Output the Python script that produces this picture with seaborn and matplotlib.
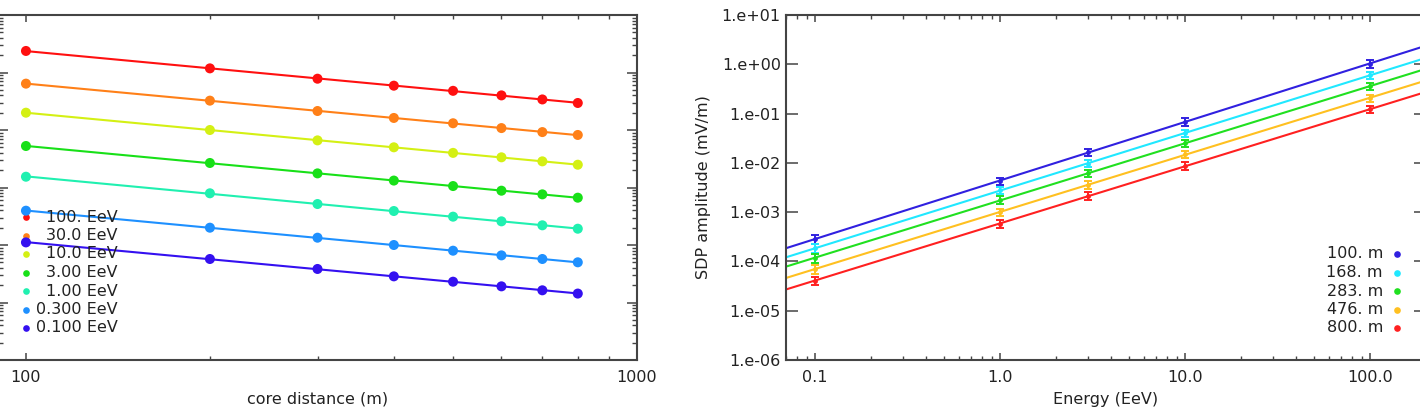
import numpy as np
import pandas as pd
import matplotlib
matplotlib.use("Agg")
import matplotlib.pyplot as plt
import matplotlib.ticker as mticker
import seaborn as sns

# ---------------- data ----------------
core_distance = [100, 200, 300, 400, 500, 600, 700, 800]
energy_labels = ["100. EeV", "30.0 EeV", "10.0 EeV", "3.00 EeV", "1.00 EeV", "0.300 EeV", "0.100 EeV"]
amp_100EeV = [2.37, 1.18, 0.78, 0.59, 0.48, 0.40, 0.34, 0.295]
amp_30EeV = [0.64, 0.324, 0.214, 0.162, 0.131, 0.108, 0.092, 0.082]
amp_10EeV = [0.200, 0.100, 0.066, 0.050, 0.040, 0.0335, 0.0285, 0.0249]
amp_3EeV = [0.0527, 0.0267, 0.0176, 0.0132, 0.0106, 0.0088, 0.0076, 0.00665]
amp_1EeV = [0.0154, 0.00793, 0.00516, 0.0039, 0.00311, 0.00258, 0.0022, 0.00192]
amp_03EeV = [0.00395, 0.0020, 0.00134, 0.0010, 0.000796, 0.00066, 0.000571, 0.0005]
amp_01EeV = [0.00111, 0.000571, 0.000383, 0.000285, 0.00023, 0.000191, 0.000163, 0.000143]

energy = [0.1, 1.0, 3.0, 10.0, 100.0]
distance_labels = ["100. m", "168. m", "283. m", "476. m", "800. m"]
sdp_100m = [2.84e-4, 4.3e-3, 1.67e-2, 6.8e-2, 1.03]
sdp_168m = [1.86e-4, 2.75e-3, 9.7e-3, 4.06e-2, 0.60]
sdp_283m = [1.17e-4, 1.78e-3, 6.1e-3, 2.54e-2, 0.355]
sdp_476m = [7.0e-5, 1.0e-3, 3.6e-3, 1.5e-2, 0.206]
sdp_800m = [4.1e-5, 5.8e-4, 2.14e-3, 8.7e-3, 0.121]
sdp_rel_err = [0.2, 0.17, 0.17, 0.17, 0.17]

# ---------------- styles ----------------
left_colors = ["#ff1010", "#ff8018", "#d4f014", "#18e018", "#20f0b0", "#1e90ff", "#3410f0"]
right_colors = ["#3020e0", "#20e8ff", "#20e020", "#ffc020", "#ff2020"]
SPINE = "#444444"
TEXT = "#222222"

sns.set_theme(style="ticks")
plt.rcParams["font.family"] = ["DejaVu Sans"]
plt.rcParams["font.size"] = 11.5
plt.rcParams["text.color"] = TEXT
plt.rcParams["axes.labelcolor"] = TEXT

W, H = 1420, 420
fig = plt.figure(figsize=(W / 100, H / 100), dpi=100)
ax1 = fig.add_axes([-2 / W, 60 / H, 639 / W, 345 / H])
ax2 = fig.add_axes([786.4 / W, 60 / H, 639.3 / W, 345 / H])

# ---------------- left panel ----------------
left_series = [amp_100EeV, amp_30EeV, amp_10EeV, amp_3EeV, amp_1EeV, amp_03EeV, amp_01EeV]
rows = []
for lab, vals in zip(energy_labels, left_series):
    for d, v in zip(core_distance, vals):
        rows.append({"energy": lab, "distance": d, "amp": v})
df_left = pd.DataFrame(rows)

ax1.set_xscale("log")
ax1.set_yscale("log")
for lab, vals, c in zip(energy_labels, left_series, left_colors):
    x = np.array(core_distance, float)
    y = np.array(vals, float)
    p = np.polyfit(np.log10(x), np.log10(y), 1)
    xf = np.array([x.min(), x.max()])
    yf = 10 ** np.polyval(p, np.log10(xf))
    sns.lineplot(x=xf, y=yf, ax=ax1, color=c, lw=1.5, legend=False)
sns.scatterplot(data=df_left, x="distance", y="amp", hue="energy", hue_order=energy_labels,
                palette=left_colors, s=52, edgecolor="none", ax=ax1, legend=False, zorder=3)

ax1.set_xlim(90, 1000)
ax1.set_ylim(1e-5, 1e1)
ax1.xaxis.set_major_locator(mticker.LogLocator(base=10))
ax1.xaxis.set_minor_locator(mticker.LogLocator(base=10, subs=np.arange(2, 10)))
ax1.xaxis.set_major_formatter(mticker.FuncFormatter(lambda v, p: f"{v:.0f}"))
ax1.xaxis.set_minor_formatter(mticker.NullFormatter())
ax1.yaxis.set_major_locator(mticker.LogLocator(base=10, numticks=20))
ax1.yaxis.set_minor_locator(mticker.LogLocator(base=10, subs=np.arange(2, 10), numticks=20))
ax1.yaxis.set_major_formatter(mticker.NullFormatter())
ax1.yaxis.set_minor_formatter(mticker.NullFormatter())
ax1.tick_params(axis="x", which="major", direction="in", top=True, length=5, width=1.1, color=SPINE,
                labelcolor=TEXT, labelsize=11.5, pad=7)
ax1.tick_params(axis="x", which="minor", direction="in", top=True, length=3, width=1.0, color=SPINE)
ax1.tick_params(axis="y", which="major", direction="in", left=True, right=True, length=7.5, width=1.1, color=SPINE)
ax1.tick_params(axis="y", which="minor", direction="in", left=True, right=True, length=3.8, width=1.0, color=SPINE)
ax1.set_xlabel("core distance (m)", fontsize=11.5, labelpad=5)
ax1.set_ylabel("")

# manual right-aligned legend
for i, (lab, c) in enumerate(zip(energy_labels, left_colors)):
    ypix = 217 + 18.5 * i
    yf = (360 - ypix) / 345
    ax1.plot([28 / 639], [yf], "o", color=c, ms=4.8, mec="none", transform=ax1.transAxes, clip_on=False)
    ax1.text(120 / 639, yf, lab, ha="right", va="center", fontsize=11.5, color=TEXT, transform=ax1.transAxes)

# ---------------- right panel ----------------
right_series = [sdp_100m, sdp_168m, sdp_283m, sdp_476m, sdp_800m]
ax2.set_xscale("log")
ax2.set_yscale("log")
xlim2 = (0.07, 200)
for lab, vals, c in zip(distance_labels, right_series, right_colors):
    x = np.array(energy, float)
    y = np.array(vals, float)
    p = np.polyfit(np.log10(x), np.log10(y), 1)
    xf = np.array(xlim2)
    yf = 10 ** np.polyval(p, np.log10(xf))
    sns.lineplot(x=xf, y=yf, ax=ax2, color=c, lw=1.5, legend=False)
    err = y * np.array(sdp_rel_err)
    ax2.errorbar(x, y, yerr=err, fmt="o", ms=3.5, color=c, mec="none", elinewidth=1.4,
                 capsize=3, capthick=1.4, zorder=3)

ax2.set_xlim(*xlim2)
ax2.set_ylim(1e-6, 1e1)
ax2.xaxis.set_major_locator(mticker.LogLocator(base=10))
ax2.xaxis.set_minor_locator(mticker.LogLocator(base=10, subs=np.arange(2, 10)))
ax2.xaxis.set_major_formatter(mticker.FuncFormatter(lambda v, p: f"{v:.1f}"))
ax2.xaxis.set_minor_formatter(mticker.NullFormatter())
ax2.yaxis.set_major_locator(mticker.LogLocator(base=10, numticks=20))
ax2.yaxis.set_minor_locator(mticker.NullLocator())
ax2.yaxis.set_major_formatter(mticker.FuncFormatter(lambda v, p: f"1.e{int(round(np.log10(v))):+03d}"))
ax2.tick_params(axis="x", which="major", direction="in", top=True, length=5, width=1.1, color=SPINE,
                labelcolor=TEXT, labelsize=11.5, pad=7)
ax2.tick_params(axis="x", which="minor", direction="in", top=True, length=3, width=1.0, color=SPINE)
ax2.tick_params(axis="y", which="major", direction="in", left=True, right=True, length=8.5, width=1.1,
                color=SPINE, labelcolor=TEXT, labelsize=11.5, pad=4)
ax2.set_xlabel("Energy (EeV)", fontsize=11.5, labelpad=5)
ax2.set_ylabel("SDP amplitude (mV/m)", fontsize=11.5, labelpad=8)

for i, (lab, c) in enumerate(zip(distance_labels, right_colors)):
    ypix = 254 + 18.5 * i
    yf = (360 - ypix) / 345
    ax2.plot([(1397 - 786.4) / 639.3], [yf], "o", color=c, ms=4.8, mec="none", transform=ax2.transAxes,
             clip_on=False)
    ax2.text((1383 - 786.4) / 639.3, yf, lab, ha="right", va="center", fontsize=11.5, color=TEXT,
             transform=ax2.transAxes)

for ax in (ax1, ax2):
    for s in ax.spines.values():
        s.set_color(SPINE)
        s.set_linewidth(1.5)
        s.set_visible(True)

fig.savefig("out.png", dpi=100)
